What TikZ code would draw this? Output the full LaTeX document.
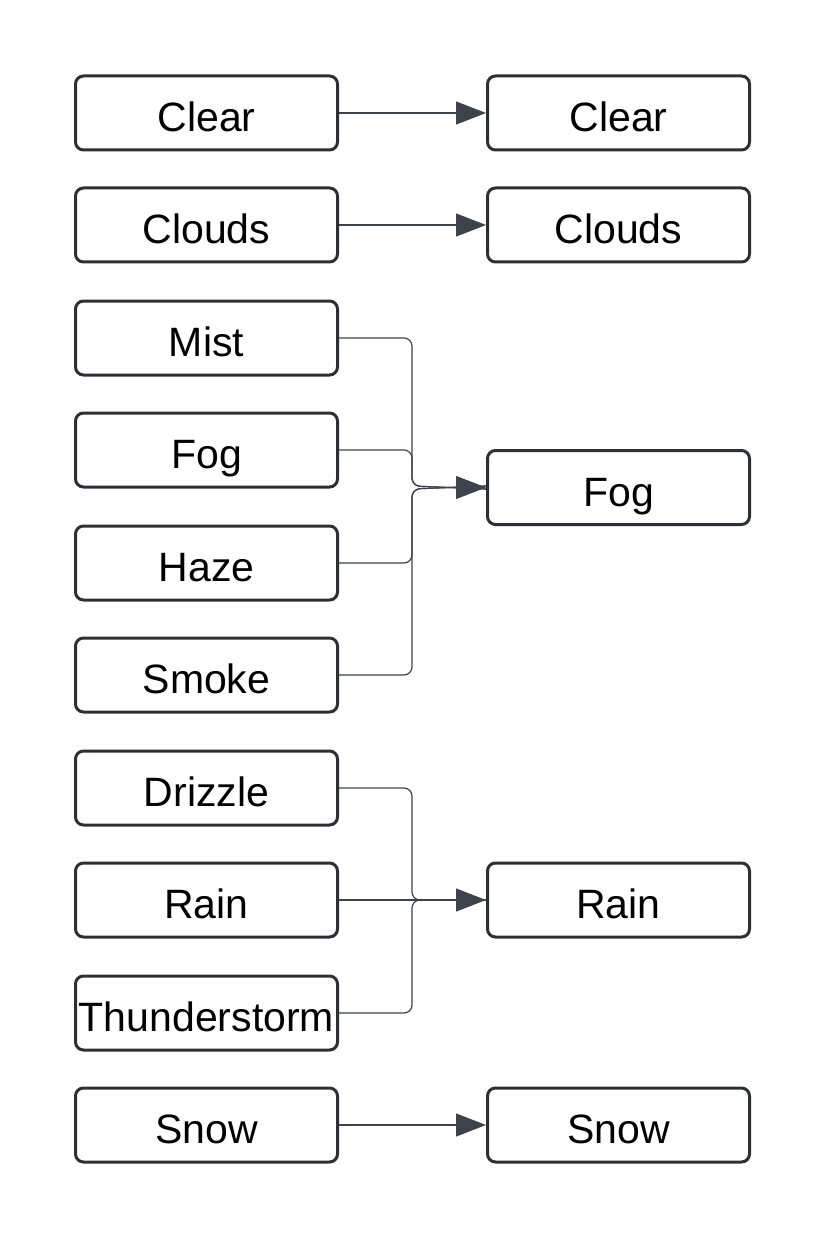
\documentclass[tikz,border=0pt]{standalone}
\usepackage{fontspec}
\setmainfont{Liberation Sans}
\usetikzlibrary{arrows.meta}
\definecolor{boxc}{HTML}{2B2F36}
\definecolor{linec}{HTML}{3D434C}
\begin{document}
\begin{tikzpicture}[x=1pt,y=-1pt,
  wbox/.style={draw=boxc,line width=3pt,rounded corners=8pt,minimum width=262pt,minimum height=74pt,inner sep=0pt,font=\fontsize{41}{45}\selectfont,text=black,text depth=0pt,text height=37pt},
  conn/.style={draw=linec,line width=1.2pt,rounded corners=8pt},
  arr/.style={conn,-{Triangle[length=30pt,width=23pt]}}]
\useasboundingbox (0,0) rectangle (825,1238);
\foreach \n/\t/\y in {l1/Clear/113,l2/Clouds/225,l3/Mist/338,l4/Fog/450,l5/Haze/563,l6/Smoke/675,l7/Drizzle/788,l8/Rain/900,l9/Thunderstorm/1013,l10/Snow/1125}
  \node[wbox] (\n) at (206.5,\y) {\t};
\foreach \n/\t/\y in {r1/Clear/113,r2/Clouds/225,r3/Fog/487.5,r4/Rain/900,r5/Snow/1125}
  \node[wbox] (\n) at (618.5,\y) {\t};
\draw[arr] (l1.east) -- (r1.west);
\draw[arr] (l2.east) -- (r2.west);
\draw[arr] (l10.east) -- (r5.west);
% Fog group
\draw[conn] (l3.east) -- (412,338) -- (412,486) -- ([yshift=-1.5pt]r3.west);
\draw[conn] (l4.east) -- (412,450) -- (412,486) -- ([yshift=-1.5pt]r3.west);
\draw[conn] (l5.east) -- (412,563) -- (412,489) -- ([yshift=1.5pt]r3.west);
\draw[conn] (l6.east) -- (412,675) -- (412,489) -- ([yshift=1.5pt]r3.west);
\draw[arr] ([xshift=-40pt]r3.west) -- (r3.west);
% Rain group
\draw[conn] (l7.east) -- (412,788) -- (412,900) -- (r4.west);
\draw[conn] (l9.east) -- (412,1013) -- (412,900) -- (r4.west);
\draw[arr] (l8.east) -- (r4.west);
\end{tikzpicture}
\end{document}
